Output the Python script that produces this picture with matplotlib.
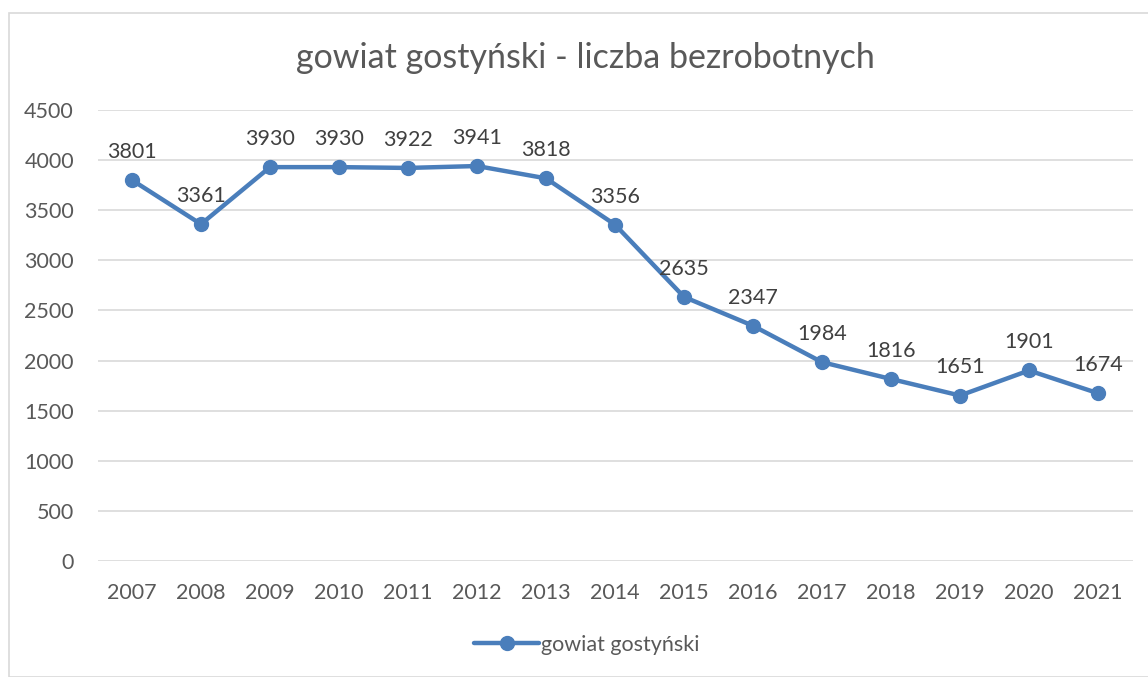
import matplotlib.pyplot as plt
from matplotlib.patches import Rectangle

years = ['2007', '2008', '2009', '2010', '2011', '2012', '2013', '2014',
         '2015', '2016', '2017', '2018', '2019', '2020', '2021']
values = [3801, 3361, 3930, 3930, 3922, 3941, 3818, 3356,
          2635, 2347, 1984, 1816, 1651, 1901, 1674]
series_name = 'gowiat gostyński'
title = 'gowiat gostyński - liczba bezrobotnych'

plt.rcParams['font.family'] = ['Lato', 'DejaVu Sans']
blue = '#4a7ebb'
grey_text = '#595959'

fig = plt.figure(figsize=(11.48, 6.77), dpi=100)
W, H = 1148, 677

# outer chart border
fig.patches.append(Rectangle((8.5 / W, 0), 1.2, 1 - 12.5 / H, transform=fig.transFigure,
                             fill=False, edgecolor='#d9d9d9', linewidth=1.2))

ax = fig.add_axes([97.5 / W, 1 - 561 / H, (1132.5 - 97.5) / W, (561 - 110) / H])
x = list(range(len(years)))
ax.plot(x, values, color=blue, linewidth=3.2, marker='o', markersize=10,
        solid_capstyle='round', label=series_name, zorder=3)

for xi, v in zip(x, values):
    ax.annotate(str(v), (xi, v), xytext=(0, 13), textcoords='offset points',
                ha='center', va='bottom', fontsize=15.5, color='#404040')

ax.set_xlim(-0.5, len(years) - 0.5)
ax.set_ylim(0, 4500)
ax.set_yticks(range(0, 4501, 500))
ax.set_xticks(x)
ax.set_xticklabels(years)
ax.grid(axis='y', color='#d9d9d9', linewidth=1.2)
ax.set_axisbelow(True)
for s in ax.spines.values():
    s.set_visible(False)
ax.tick_params(length=0, labelsize=15.5, labelcolor=grey_text)
ax.tick_params(axis='x', pad=16)
ax.tick_params(axis='y', pad=17)

fig.text(585 / W, 1 - 58 / H, title, ha='center', va='center', fontsize=24.5, color=grey_text)

fig.legend(loc='center', bbox_to_anchor=(587 / W, 1 - 645 / H), frameon=False,
           fontsize=15.5, labelcolor=grey_text, handlelength=3, handletextpad=0.1)

fig.savefig('out.png', dpi=100)
